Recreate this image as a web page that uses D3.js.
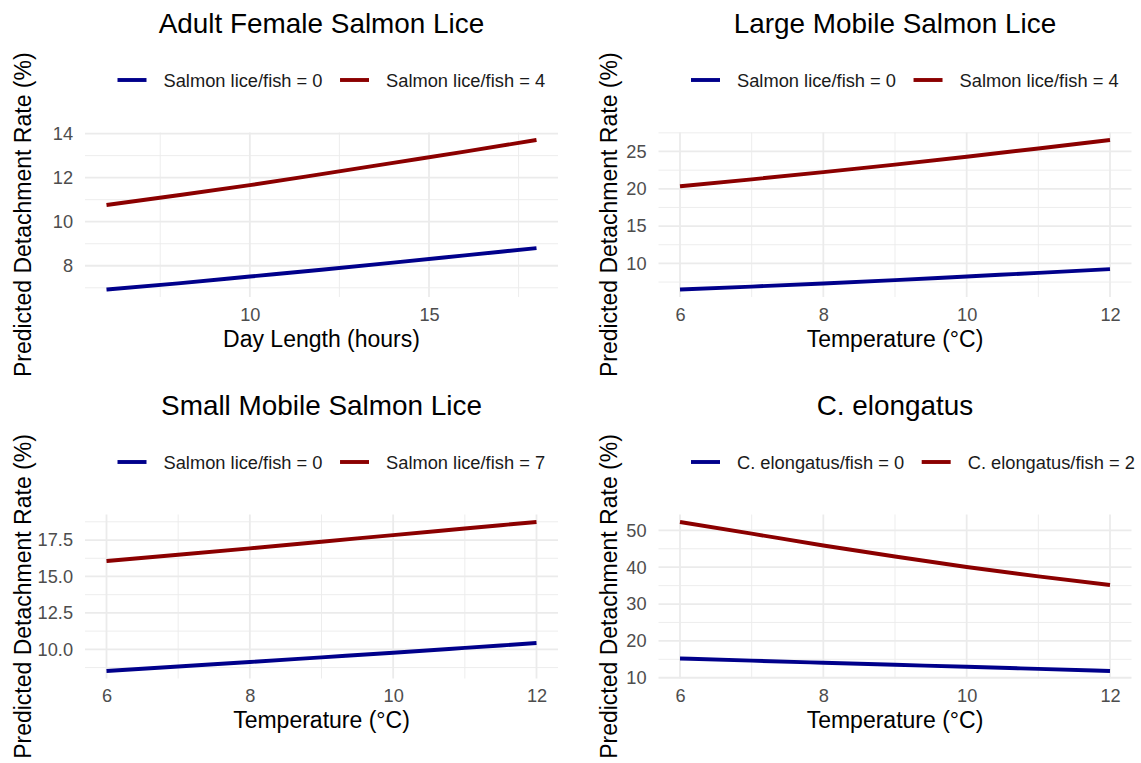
<!DOCTYPE html>
<html>
<head>
<meta charset="utf-8">
<script src="https://cdn.jsdelivr.net/npm/d3@7/dist/d3.min.js"></script>
<style>
  html, body { margin: 0; padding: 0; background: #ffffff; }
  svg { display: block; font-family: "Liberation Sans", Arial, Helvetica, sans-serif; }
</style>
</head>
<body>
<svg id="chart" width="1141" height="763"></svg>
<script>
// ---------------- DATA ----------------
const panelTitles = ["Adult Female Salmon Lice", "Large Mobile Salmon Lice", "Small Mobile Salmon Lice", "C. elongatus"];
const xAxisTitles = ["Day Length (hours)", "Temperature (°C)", "Temperature (°C)", "Temperature (°C)"];
const yAxisTitle = "Predicted Detachment Rate (%)";
const legendLabels = [
  ["Salmon lice/fish = 0", "Salmon lice/fish = 4"],
  ["Salmon lice/fish = 0", "Salmon lice/fish = 4"],
  ["Salmon lice/fish = 0", "Salmon lice/fish = 7"],
  ["C. elongatus/fish = 0", "C. elongatus/fish = 2"]
];
const seriesColors = ["#00008B", "#8B0000"];

const dayLength = [6, 8, 10, 12, 14, 16, 18];
const temperature = [6, 7, 8, 9, 10, 11, 12];

const adultFemaleLow  = [6.92, 7.20, 7.51, 7.82, 8.14, 8.47, 8.80];
const adultFemaleHigh = [10.76, 11.20, 11.66, 12.16, 12.67, 13.18, 13.71];
const largeMobileLow  = [6.50, 6.89, 7.31, 7.76, 8.25, 8.73, 9.23];
const largeMobileHigh = [20.34, 21.26, 22.23, 23.24, 24.30, 25.40, 26.54];
const smallMobileLow  = [8.51, 8.82, 9.13, 9.45, 9.77, 10.10, 10.43];
const smallMobileHigh = [16.06, 16.49, 16.93, 17.38, 17.84, 18.29, 18.74];
const elongatusLow    = [15.24, 14.65, 14.07, 13.52, 12.99, 12.40, 11.82];
const elongatusHigh   = [52.28, 49.10, 45.90, 42.90, 40.05, 37.50, 35.17];

const xTickValues = [[10, 15], [6, 8, 10, 12], [6, 8, 10, 12], [6, 8, 10, 12]];
const xMajorAll   = [[5, 10, 15, 20], [6, 8, 10, 12], [6, 8, 10, 12], [6, 8, 10, 12]];
const yTickValues = [[8, 10, 12, 14], [10, 15, 20, 25], [10, 12.5, 15, 17.5], [10, 20, 30, 40, 50]];
const yTickFormats = [",d", ",d", ".1f", ",d"];

const panelX = [dayLength, temperature, temperature, temperature];
const panelSeries = [
  [adultFemaleLow, adultFemaleHigh],
  [largeMobileLow, largeMobileHigh],
  [smallMobileLow, smallMobileHigh],
  [elongatusLow, elongatusHigh]
];

// ---------------- LAYOUT ----------------
const colX = [[85, 558], [658.5, 1131.5]];
const rowY = [[132.5, 297], [514.5, 678.5]];
const yTitleX = [31, 617];
const FONT = '"Liberation Sans", Arial, Helvetica, sans-serif';

const svg = d3.select("#chart");
svg.append("rect").attr("width", 1141).attr("height", 763).attr("fill", "#ffffff");

function expand(ext) {
  const d = (ext[1] - ext[0]) * 0.05;
  return [ext[0] - d, ext[1] + d];
}
function minorBreaks(major, dom) {
  const step = major[1] - major[0];
  const out = [];
  const ext = [major[0] - step].concat(major, [major[major.length - 1] + step]);
  for (let i = 0; i < ext.length - 1; i++) {
    const m = (ext[i] + ext[i + 1]) / 2;
    if (m >= dom[0] && m <= dom[1]) out.push(m);
  }
  return out;
}

panelTitles.forEach((title, i) => {
  const col = i % 2, row = Math.floor(i / 2);
  const [x0, x1] = colX[col];
  const [y0, y1] = rowY[row];
  const xs = panelX[i];
  const series = panelSeries[i];

  const xDom = expand(d3.extent(xs));
  const yDom = expand(d3.extent(series.flat()));
  const x = d3.scaleLinear().domain(xDom).range([x0, x1]);
  const y = d3.scaleLinear().domain(yDom).range([y1, y0]);

  const g = svg.append("g");

  // minor grid
  const xMinor = minorBreaks(xMajorAll[i], xDom);
  const yMinor = minorBreaks(yTickValues[i], yDom);
  g.selectAll(".xminor").data(xMinor).enter().append("line")
    .attr("x1", d => x(d)).attr("x2", d => x(d)).attr("y1", y0).attr("y2", y1)
    .attr("stroke", "#EBEBEB").attr("stroke-width", 0.9);
  g.selectAll(".yminor").data(yMinor).enter().append("line")
    .attr("x1", x0).attr("x2", x1).attr("y1", d => y(d)).attr("y2", d => y(d))
    .attr("stroke", "#EBEBEB").attr("stroke-width", 0.9);
  // major grid
  g.selectAll(".xmajor").data(xMajorAll[i].filter(v => v >= xDom[0] && v <= xDom[1])).enter().append("line")
    .attr("x1", d => x(d)).attr("x2", d => x(d)).attr("y1", y0).attr("y2", y1)
    .attr("stroke", "#EBEBEB").attr("stroke-width", 1.8);
  g.selectAll(".ymajor").data(yTickValues[i]).enter().append("line")
    .attr("x1", x0).attr("x2", x1).attr("y1", d => y(d)).attr("y2", d => y(d))
    .attr("stroke", "#EBEBEB").attr("stroke-width", 1.8);

  // axes (labels only)
  const xAxis = d3.axisBottom(x).tickValues(xTickValues[i]).tickSize(0).tickPadding(10.7).tickFormat(d3.format(",d"));
  const yAxis = d3.axisLeft(y).tickValues(yTickValues[i]).tickSize(0).tickPadding(12).tickFormat(d3.format(yTickFormats[i]));
  const gx = g.append("g").attr("transform", `translate(0,${y1})`).call(xAxis);
  const gy = g.append("g").attr("transform", `translate(${x0},0)`).call(yAxis);
  [gx, gy].forEach(a => {
    a.select(".domain").remove();
    a.selectAll("text").attr("fill", "#4D4D4D").style("font-size", "18.2px").style("font-family", FONT);
  });

  // lines
  const line = d3.line().x((d, k) => x(xs[k])).y(d => y(d)).curve(d3.curveMonotoneX);
  series.forEach((s, k) => {
    g.append("path").datum(s).attr("d", line)
      .attr("fill", "none").attr("stroke", seriesColors[k]).attr("stroke-width", 3.9)
      .attr("stroke-linecap", "butt");
  });

  // title
  g.append("text").attr("x", (x0 + x1) / 2).attr("y", y0 - 99.5)
    .attr("text-anchor", "middle").attr("fill", "#000").style("font-size", "27.9px").text(title);

  // x axis title
  g.append("text").attr("x", (x0 + x1) / 2).attr("y", y1 + 49.7)
    .attr("text-anchor", "middle").attr("fill", "#000").style("font-size", "23px").text(xAxisTitles[i]);

  // y axis title
  g.append("text").attr("transform", `translate(${yTitleX[col]},${(y0 + y1) / 2}) rotate(-90)`)
    .attr("text-anchor", "middle").attr("fill", "#000").style("font-size", "23px").text(yAxisTitle);

  // legend
  const ly = y0 - 52.5;
  let lx = x0 + 32.5;
  legendLabels[i].forEach((lab, k) => {
    g.append("line").attr("x1", lx).attr("x2", lx + 29).attr("y1", ly).attr("y2", ly)
      .attr("stroke", seriesColors[k]).attr("stroke-width", 3.9);
    const t = g.append("text").attr("x", lx + 46).attr("y", ly).attr("dy", "0.36em")
      .attr("fill", "#1A1A1A").style("font-size", "18.3px").text(lab);
    const w = t.node().getComputedTextLength();
    lx = lx + 46 + w + 17.5;
  });
});
</script>
</body>
</html>
